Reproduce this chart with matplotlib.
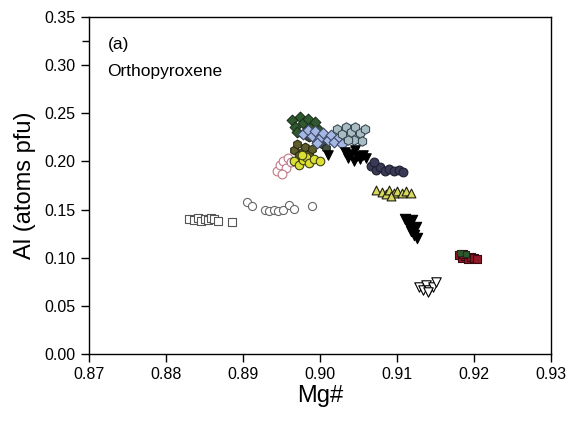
import matplotlib
matplotlib.use("Agg")
import matplotlib.pyplot as plt

plt.rcParams['font.family'] = ['Liberation Sans', 'DejaVu Sans']

# Mg#, Al (atoms pfu) per sample group
sq_x = [0.8830, 0.8836, 0.8842, 0.8846, 0.8850, 0.8854, 0.8858, 0.8862, 0.8868, 0.8885]
sq_y = [0.140, 0.139, 0.141, 0.138, 0.140, 0.139, 0.141, 0.140, 0.138, 0.137]

oc_x = [0.8905, 0.8912, 0.8928, 0.8934, 0.8940, 0.8946, 0.8952, 0.8960, 0.8966, 0.8990]
oc_y = [0.158, 0.154, 0.150, 0.149, 0.150, 0.149, 0.150, 0.155, 0.151, 0.154]

pink_x = [0.8944, 0.8948, 0.8952, 0.8956, 0.8958, 0.8962, 0.8950]
pink_y = [0.190, 0.196, 0.200, 0.193, 0.204, 0.199, 0.187]

yel_x = [0.8966, 0.8972, 0.8978, 0.8982, 0.8986, 0.8992, 0.9000, 0.8976]
yel_y = [0.200, 0.196, 0.201, 0.205, 0.198, 0.202, 0.200, 0.207]

olv_x = [0.8966, 0.8970, 0.8976, 0.8980, 0.8986, 0.8990, 0.8972]
olv_y = [0.212, 0.218, 0.210, 0.215, 0.208, 0.213, 0.207]

dg_x = [0.8964, 0.8968, 0.8974, 0.8978, 0.8984, 0.8988, 0.8994, 0.8998, 0.8970, 0.8982]
dg_y = [0.243, 0.236, 0.246, 0.240, 0.244, 0.236, 0.241, 0.233, 0.230, 0.232]

gg_x = [0.8985, 0.8995, 0.9003, 0.8978, 0.9008]
gg_y = [0.225, 0.222, 0.218, 0.228, 0.214]

lb_x = [0.8978, 0.8984, 0.8990, 0.8994, 0.9000, 0.9004, 0.9010, 0.9014, 0.9018, 0.9024, 0.9028, 0.8996]
lb_y = [0.228, 0.233, 0.226, 0.231, 0.224, 0.229, 0.222, 0.227, 0.220, 0.225, 0.218, 0.219]

gt_x = [0.9022, 0.9028, 0.9034, 0.9040, 0.9046, 0.9052, 0.9058, 0.9044, 0.9036, 0.9054]
gt_y = [0.234, 0.228, 0.236, 0.230, 0.236, 0.229, 0.234, 0.222, 0.222, 0.221]

bt1_x = [0.9010, 0.9032, 0.9036, 0.9040, 0.9044, 0.9048, 0.9052, 0.9056, 0.9060, 0.9046]
bt1_y = [0.207, 0.210, 0.203, 0.208, 0.200, 0.206, 0.202, 0.207, 0.204, 0.212]

nv_x = [0.9066, 0.9072, 0.9078, 0.9084, 0.9090, 0.9096, 0.9102, 0.9108, 0.9070]
nv_y = [0.195, 0.191, 0.194, 0.190, 0.192, 0.190, 0.191, 0.189, 0.199]

ut_x = [0.9072, 0.9080, 0.9086, 0.9090, 0.9096, 0.9100, 0.9106, 0.9112, 0.9118, 0.9092]
ut_y = [0.170, 0.168, 0.166, 0.170, 0.167, 0.169, 0.167, 0.169, 0.167, 0.164]

bt2_x = [0.9110, 0.9114, 0.9120, 0.9124, 0.9118, 0.9122, 0.9126, 0.9116]
bt2_y = [0.140, 0.136, 0.139, 0.132, 0.128, 0.124, 0.120, 0.133]

ot_x = [0.9128, 0.9134, 0.9138, 0.9142, 0.9146, 0.9150, 0.9140]
ot_y = [0.070, 0.067, 0.072, 0.066, 0.070, 0.075, 0.064]

red_x = [0.9180, 0.9184, 0.9188, 0.9192, 0.9196, 0.9200, 0.9204, 0.9186]
red_y = [0.103, 0.100, 0.102, 0.099, 0.101, 0.100, 0.099, 0.104]
rg_x = [0.9182, 0.9190]
rg_y = [0.105, 0.104]

fig = plt.figure(figsize=(5.67, 4.21), dpi=100)
ax = fig.add_axes([0.157, 0.159, 0.815, 0.801])

lw = 0.8
ax.scatter(sq_x, sq_y, marker='s', s=30, facecolor='white', edgecolor='#555555', linewidths=lw)
ax.scatter(oc_x, oc_y, marker='o', s=34, facecolor='white', edgecolor='#666666', linewidths=lw)
ax.scatter(pink_x, pink_y, marker='o', s=40, facecolor='white', edgecolor='#c07888', linewidths=lw)
ax.scatter(dg_x, dg_y, marker='D', s=30, facecolor='#2e5a2e', edgecolor='#1e2e1e', linewidths=lw)
ax.scatter(olv_x, olv_y, marker='h', s=40, facecolor='#5e5e2a', edgecolor='#2a2a14', linewidths=lw)
ax.scatter(gg_x, gg_y, marker='h', s=40, facecolor='#3e5040', edgecolor='#202820', linewidths=lw)
ax.scatter(yel_x, yel_y, marker='o', s=38, facecolor='#dce030', edgecolor='#404018', linewidths=lw)
ax.scatter(lb_x, lb_y, marker='D', s=30, facecolor='#a4b8e4', edgecolor='#404868', linewidths=lw)
ax.scatter(gt_x, gt_y, marker='h', s=46, facecolor='#a8bcc4', edgecolor='#3a4a52', linewidths=lw)
ax.scatter(bt1_x, bt1_y, marker='v', s=46, facecolor='black', edgecolor='black', linewidths=lw)
ax.scatter(nv_x, nv_y, marker='o', s=40, facecolor='#3a3a56', edgecolor='#1e1e30', linewidths=lw)
ax.scatter(ut_x, ut_y, marker='^', s=40, facecolor='#d8d860', edgecolor='#202010', linewidths=lw)
ax.scatter(bt2_x, bt2_y, marker='v', s=55, facecolor='black', edgecolor='black', linewidths=lw)
ax.scatter(ot_x, ot_y, marker='v', s=46, facecolor='white', edgecolor='black', linewidths=lw)
ax.scatter(red_x, red_y, marker='s', s=30, facecolor='#901828', edgecolor='#3a0a10', linewidths=lw)
ax.scatter(rg_x, rg_y, marker='s', s=24, facecolor='#2e5a2e', edgecolor='#1e2e1e', linewidths=lw)

ax.set_xlim(0.87, 0.93)
ax.set_ylim(0.0, 0.35)
ax.set_xticks([0.87, 0.88, 0.89, 0.90, 0.91, 0.92, 0.93])
ax.set_xticklabels(['0.87', '0.88', '0.89', '0.90', '0.91', '0.92', '0.93'])
ax.set_yticks([0.00, 0.05, 0.10, 0.15, 0.20, 0.25, 0.30, 0.35])
ax.set_yticklabels(['0.00', '0.05', '0.10', '0.15', '0.20', '0.25', '0.30', '0.35'])
ax.set_yticks([0.325], minor=True)
ax.tick_params(axis='both', which='major', direction='out', length=6, width=1, labelsize=11.5)
ax.tick_params(axis='y', which='minor', direction='out', length=5, width=1)
ax.tick_params(top=False, right=False)
for sp in ax.spines.values():
    sp.set_linewidth(1.0)

ax.set_xlabel('Mg#', fontsize=17, labelpad=2)
ax.set_ylabel('Al (atoms pfu)', fontsize=17, labelpad=6)

ax.text(0.8724, 0.321, '(a)', fontsize=12.5, ha='left', va='center')
ax.text(0.8724, 0.293, 'Orthopyroxene', fontsize=12.5, ha='left', va='center')

fig.savefig('out.png', dpi=100)
